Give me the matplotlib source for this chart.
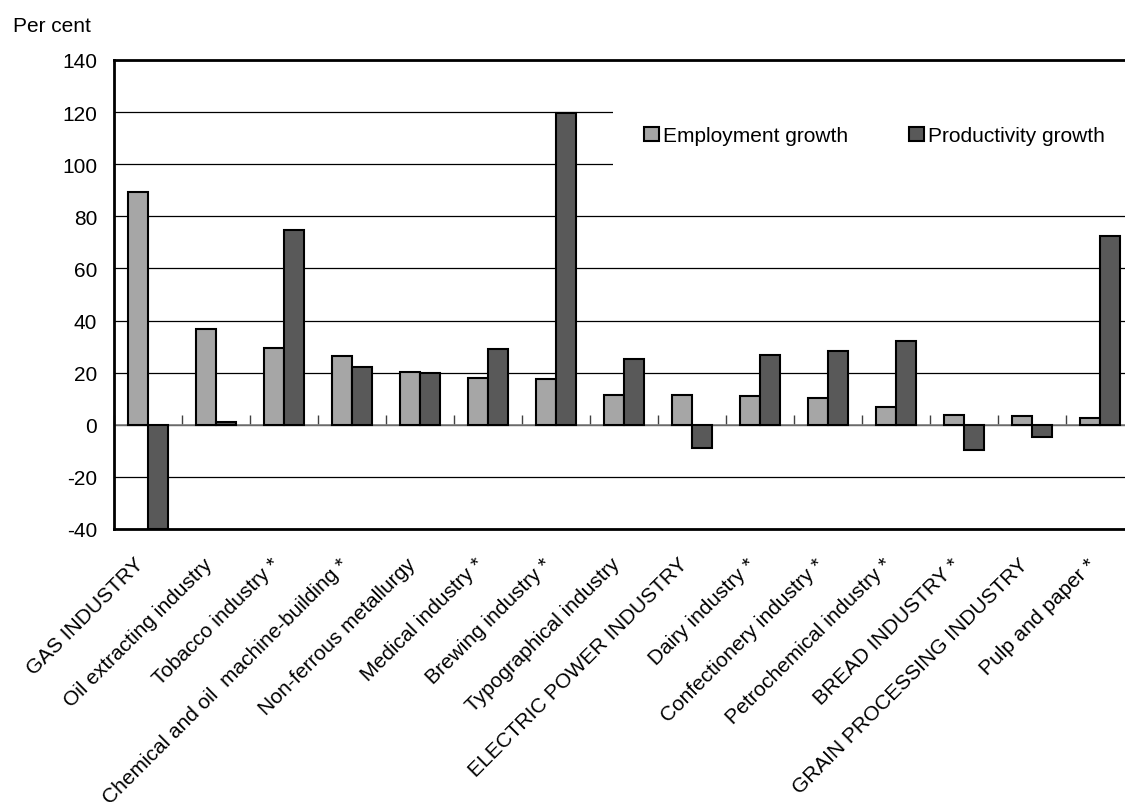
import matplotlib.pyplot as plt
import matplotlib.transforms as mtransforms
from matplotlib.patches import Rectangle
import numpy as np

plt.rcParams['font.family'] = ['Liberation Sans', 'DejaVu Sans']

# Industries and growth rates, per cent
industries = [
    'GAS INDUSTRY', 'Oil extracting industry', 'Tobacco industry *',
    'Chemical and oil  machine-building *', 'Non-ferrous metallurgy',
    'Medical industry *', 'Brewing industry *', 'Typographical industry',
    'ELECTRIC POWER INDUSTRY', 'Dairy industry *', 'Confectionery industry *',
    'Petrochemical industry *', 'BREAD INDUSTRY *', 'GRAIN PROCESSING INDUSTRY',
    'Pulp and paper *',
]
employment = [89.4, 36.8, 29.5, 26.3, 20.2, 18.0, 17.4, 11.6, 11.4, 11.0, 10.3, 7.0, 3.7, 3.4, 2.7]
productivity = [-40.0, 1.0, 74.8, 22.3, 19.7, 29.0, 119.7, 25.3, -9.1, 26.8, 28.4, 32.2, -9.6, -4.7, 72.5]
yticks = [-40, -20, 0, 20, 40, 60, 80, 100, 120, 140]

FS = 15

fig = plt.figure(figsize=(11.25, 8.03), dpi=100)
ax = fig.add_axes([114 / 1125, 1 - 530 / 803, 1020 / 1125, 469 / 803])

x = np.arange(len(industries))
w = 0.29
ax.bar(x - w / 2, employment, w, color='#a6a6a6', edgecolor='black', linewidth=1.5,
       label='Employment growth', zorder=3)
ax.bar(x + w / 2, productivity, w, color='#595959', edgecolor='black', linewidth=1.5,
       label='Productivity growth', zorder=3)

ax.set_xlim(-0.5, len(industries) - 0.5)
ax.set_ylim(-40, 140)
ax.set_yticks(yticks)
ax.set_yticklabels([str(v) for v in yticks], fontsize=FS)
ax.tick_params(axis='y', length=0, pad=12)
ax.yaxis.grid(True, color='black', linewidth=0.9)
ax.set_axisbelow(True)
for s in ax.spines.values():
    s.set_linewidth(2)

ax.set_xticks(x)
ax.set_xticklabels(industries, rotation=45, ha='right', va='center',
                   rotation_mode='anchor', fontsize=FS)
ax.tick_params(axis='x', length=0, pad=23)
shift = mtransforms.ScaledTranslation(-7 / 100, 0, fig.dpi_scale_trans)
for lab in ax.get_xticklabels():
    lab.set_transform(lab.get_transform() + shift)

# category axis along zero with small upward ticks between groups
ax.axhline(0, color='#808080', linewidth=1.2, zorder=2)
zero_axis = ax.secondary_xaxis(40 / 180)
zero_axis.set_xticks(np.arange(len(industries) + 1) - 0.5)
zero_axis.set_xticklabels([])
zero_axis.tick_params(axis='x', direction='in', length=7, width=1, color='#404040')
zero_axis.spines['bottom'].set_visible(False)

# white area behind the legend hides the upper gridlines
ax.add_patch(Rectangle((613 / 1125, 1 - 192 / 803), 0.6, 92 / 803,
                       transform=fig.transFigure, facecolor='white',
                       edgecolor='none', zorder=1))

fig.legend(loc='center left', bbox_to_anchor=(644 / 1125, 1 - 137 / 803), ncol=2,
           fontsize=FS, frameon=False, handlelength=0.72, handleheight=0.63,
           handletextpad=0.2, columnspacing=2.9, borderpad=0, borderaxespad=0)

fig.text(13 / 1125, 1 - 26 / 803, 'Per cent', fontsize=FS, va='center', ha='left')

fig.savefig('out.png', dpi=100)
